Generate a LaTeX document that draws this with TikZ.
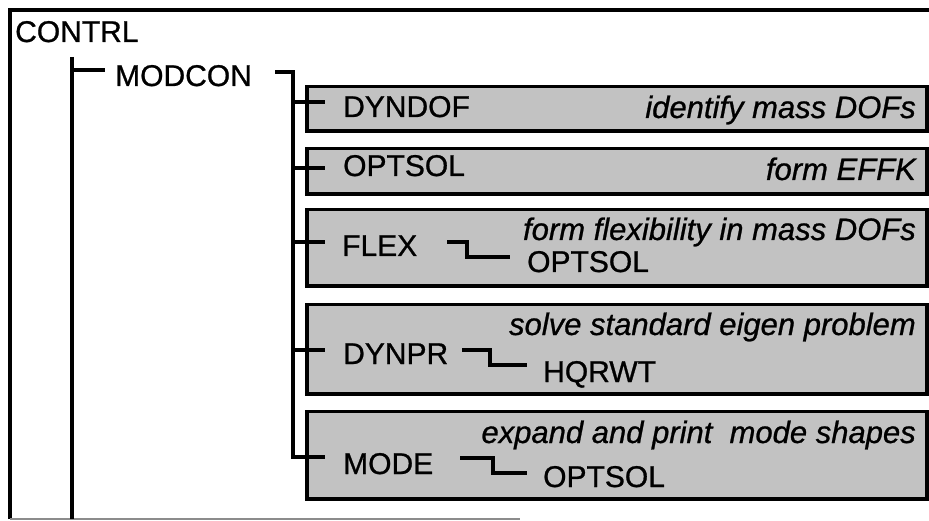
\documentclass[tikz,border=0pt]{standalone}
\usepackage{fontspec}
\setmainfont[FakeBold=0.8]{Liberation Sans}
\definecolor{boxgray}{RGB}{194,194,194}
\begin{document}
\begin{tikzpicture}[x=1pt,y=-1pt,
  ln/.style={line width=3.2pt},
  lbl/.style={font=\fontsize{30}{30}\selectfont, inner sep=0pt, anchor=base west},
  note/.style={font=\fontsize{31}{31}\selectfont\itshape, inner sep=0pt, anchor=base east},
  pbox/.style={draw, line width=3.2pt, fill=boxgray}]
\useasboundingbox (0,0) rectangle (929,521);

% frame
\draw[ln] (10,519) -- (10,10) -- (931,10);
\draw[line width=1.5pt, black!45] (10,519) -- (520,519);

% boxes
\path[pbox] (307,86.5) rectangle (927,131);
\path[pbox] (307,148.5) rectangle (927,194);
\path[pbox] (307,209.5) rectangle (927,286);
\path[pbox] (307,304.5) rectangle (927,394);
\path[pbox] (307,411.5) rectangle (927,499);

% labels
\node[lbl] (contrl) at (15,42) {CONTRL};
\node[lbl] (modcon) at (115,86) {MODCON};
\node[lbl] (dyndof) at (343,117) {DYNDOF};
\node[lbl] (optsol) at (343,176) {OPTSOL};
\node[lbl] (flex) at (342,256) {FLEX};
\node[lbl] (dynpr) at (343,364) {DYNPR};
\node[lbl] (mode) at (343,474) {MODE};
\node[lbl] (flexopt) at (527,272) {OPTSOL};
\node[lbl] (hqrwt) at (543,382) {HQRWT};
\node[lbl] (modeopt) at (543,487) {OPTSOL};

\node[note] (n1) at (916,118) {identify mass DOFs};
\node[note] (n2) at (916,180) {form EFFK};
\node[note] (n3) at (916,240) {form flexibility in mass DOFs};
\node[note] (n4) at (916,335) {solve standard eigen problem};
\node[note] (n5) at (916,443) {expand and print\ \ mode shapes};

% tree coordinates
\coordinate (c0) at (72,57);
\coordinate (c1) at (72,519);
\coordinate (cm) at (72,70);
\coordinate (cme) at (105,70);
\coordinate (m0) at (275,72);
\coordinate (m1) at (293,72);
\coordinate (m5) at (293,457);
\coordinate (b1) at (325,102);
\coordinate (b2) at (325,168);
\coordinate (b3) at (325,242);
\coordinate (b4) at (325,350);
\coordinate (b5) at (325,457);

\draw[ln] (c0) -- (c1);
\draw[ln] (cm) -- (cme);
\draw[ln] (m0) -- (m1) -- (m5) -- (b5);
\draw[ln] (m1 |- b1) -- (b1);
\draw[ln] (m1 |- b2) -- (b2);
\draw[ln] (m1 |- b3) -- (b3);
\draw[ln] (m1 |- b4) -- (b4);

% zigzags
\draw[ln] (447,242) -- (467,242) -- (467,257) -- (510,257);
\draw[ln] (462,350) -- (490,350) -- (490,365) -- (527,365);
\draw[ln] (460,458) -- (493,458) -- (493,473) -- (527,473);
\end{tikzpicture}
\end{document}
